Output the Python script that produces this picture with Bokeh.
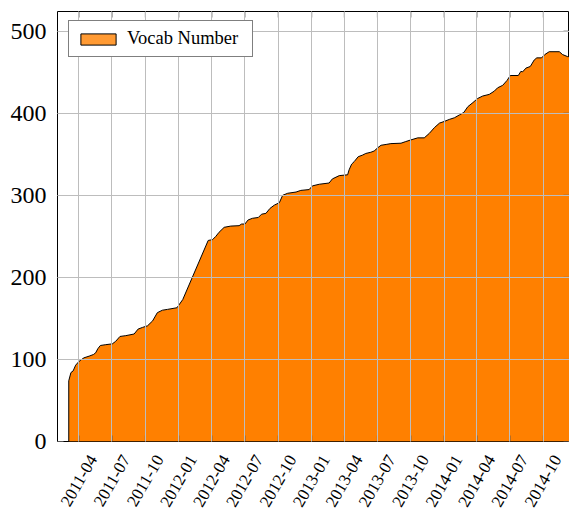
import math
import pandas as pd
from bokeh.plotting import figure
from bokeh.models import (Range1d, FixedTicker, ColumnDataSource, Legend, LegendItem)
from bokeh.embed import file_html
from bokeh.resources import INLINE

# ---- data ----
dates = ["2011-03-04","2011-03-10","2011-03-16","2011-03-23","2011-04-02","2011-04-15","2011-04-29",
         "2011-05-11","2011-05-17","2011-05-23","2011-05-30","2011-06-14","2011-07-02","2011-07-11",
         "2011-07-23","2011-08-08","2011-08-31","2011-09-11","2011-09-23","2011-10-07","2011-10-21",
         "2011-11-03","2011-11-17","2011-12-01","2011-12-27","2012-01-12",
         "2012-03-22","2012-04-03","2012-04-12","2012-04-21","2012-05-05","2012-05-23","2012-06-15",
         "2012-06-22","2012-07-01","2012-07-10","2012-07-22","2012-08-07","2012-08-16","2012-08-28",
         "2012-09-08","2012-09-20","2012-10-04","2012-10-13","2012-10-27","2012-11-19","2012-12-02",
         "2012-12-25",
         "2013-01-03","2013-01-22","2013-02-18","2013-02-27","2013-03-18","2013-04-10","2013-04-14",
         "2013-04-21","2013-04-28","2013-05-09","2013-05-21","2013-05-30","2013-06-13","2013-06-22",
         "2013-07-02","2013-07-11","2013-07-25","2013-08-07","2013-09-04","2013-09-17","2013-10-01",
         "2013-10-20","2013-11-07","2013-11-21","2013-12-05","2013-12-19",
         "2014-01-01","2014-01-15","2014-01-29","2014-02-12","2014-02-24","2014-03-07","2014-03-21",
         "2014-04-03","2014-04-17","2014-05-05","2014-05-19","2014-05-28","2014-06-11","2014-06-23",
         "2014-07-02","2014-07-24","2014-07-31","2014-08-05","2014-08-14","2014-08-26","2014-09-06",
         "2014-09-13","2014-09-26","2014-10-05","2014-10-17","2014-11-14","2014-11-23","2014-12-07",
         "2014-12-12"]
vocab = [74, 84, 86, 93, 98, 102, 104, 106, 108, 113, 117, 118, 119, 122, 128, 129, 131, 137, 139,
         141, 147, 157, 160, 161, 163, 173,
         245, 246, 250, 255, 261, 262.5, 263, 265, 265, 270, 272, 273, 277, 278, 284, 288, 291, 300,
         302.5, 304, 306, 307,
         311.5, 313.5, 315, 320, 324, 325, 331, 338, 341, 347, 349, 351, 352.5, 354, 358, 361, 362,
         363, 363.5, 365.5, 367.5, 370, 370, 375.5, 382.5, 388,
         390, 392.5, 394.5, 398, 401, 408, 413, 418, 421, 423, 427, 431, 434, 440, 446, 446, 451,
         450.5, 455, 457, 465, 467.5, 467.5, 471.5, 475, 475, 471.5, 469, 469]
tick_labels = ["2011-04", "2011-07", "2011-10", "2012-01", "2012-04", "2012-07", "2012-10",
               "2013-01", "2013-04", "2013-07", "2013-10", "2014-01", "2014-04", "2014-07", "2014-10"]
y_ticks = [0, 100, 200, 300, 400, 500]
series_name = "Vocab Number"
x_start, x_end = "2011-02-01", "2014-12-12"
y_max = 524

FONT = "Liberation Serif"
W, H = 569, 515
BL, BT, BR, BB = 57, 11, 0, 74
frame_h = H - BT - BB
frame_w = W - BL - BR

x = pd.to_datetime(dates)
tick_dates = pd.to_datetime([t + "-01" for t in tick_labels])
tick_ms = [int(t.value // 10**6) for t in tick_dates]
xs0, xs1 = pd.Timestamp(x_start), pd.Timestamp(x_end)
ms_per_px = (xs1 - xs0) / pd.Timedelta(milliseconds=1) / frame_w
units_per_px = y_max / frame_h

p = figure(width=W, height=H, x_axis_type="datetime", output_backend="svg",
           toolbar_location=None, x_range=Range1d(xs0, xs1), y_range=Range1d(0, y_max),
           min_border_left=BL, min_border_top=BT, min_border_right=BR, min_border_bottom=BB)
p.background_fill_color = "white"
p.border_fill_color = "white"
p.outline_line_color = "black"
p.outline_line_width = 1

src = ColumnDataSource(dict(x=x, y=vocab))
p.varea(x="x", y1=0, y2="y", source=src, fill_color="#ff8000")
ox = [x[0]] + list(x) + [x[-1]]
oy = [0] + list(vocab) + [0]
p.line(ox, oy, line_color="black", line_width=1)

# inward tick marks on bottom, top and right (pgfplots style)
tick_len = 6
TICK_COLOR = "#555555"
p.segment(x0=tick_dates, y0=0, x1=tick_dates, y1=tick_len * units_per_px,
          line_color=TICK_COLOR, line_width=1)
p.segment(x0=tick_dates, y0=y_max - tick_len * units_per_px, x1=tick_dates, y1=y_max,
          line_color=TICK_COLOR, line_width=1)
xr_tick0 = xs1 - pd.Timedelta(milliseconds=tick_len * ms_per_px)
p.segment(x0=[xr_tick0] * len(y_ticks), y0=y_ticks, x1=[xs1] * len(y_ticks), y1=y_ticks,
          line_color=TICK_COLOR, line_width=1)

# legend swatch (glyph with no drawable data)
nan = float("nan")
dummy = p.quad(left=[nan], right=[nan], top=[nan], bottom=[nan], fill_color="#ff9a33",
               line_color="black", line_width=1)
legend = Legend(items=[LegendItem(label=series_name, renderers=[dummy])],
                location=(11, 384), glyph_width=44, glyph_height=14, padding=7, margin=0,
                label_standoff=7, label_width=118, label_text_font=FONT,
                label_text_font_size="18.5px", label_text_color="black",
                border_line_color="black", border_line_width=1,
                background_fill_alpha=1.0, label_height=14)
p.add_layout(legend)

# x axis: labels centred under ticks (range shifted so rotated, right-anchored labels centre on ticks)
shift_px = 14
shift = pd.Timedelta(milliseconds=shift_px * ms_per_px)
p.extra_x_ranges = {"lbl": Range1d(xs0 - shift, xs1 - shift)}
xa = p.xaxis[0]
xa.x_range_name = "lbl"
xa.ticker = FixedTicker(ticks=tick_ms)
xa.major_label_overrides = {t: lab for t, lab in zip(tick_ms, tick_labels)}
xa.major_label_orientation = math.pi / 3
xa.major_label_text_font = FONT
xa.major_label_text_font_size = "17px"
xa.major_label_text_color = "black"
xa.major_label_standoff = 15
xa.major_tick_in = 0
xa.major_tick_out = 0
xa.minor_tick_in = 0
xa.minor_tick_out = 0
xa.axis_line_color = None

ya = p.yaxis[0]
ya.ticker = FixedTicker(ticks=y_ticks)
ya.axis_line_color = None
ya.major_tick_in = tick_len
ya.major_tick_out = 0
ya.minor_tick_in = 0
ya.minor_tick_out = 0
ya.major_tick_line_color = TICK_COLOR
ya.major_label_text_font = FONT
ya.major_label_text_font_size = "24px"
ya.major_label_text_color = "black"
ya.major_label_standoff = 11

for g in (p.xgrid, p.ygrid):
    g.level = "guide"
    g.grid_line_color = "#bdbdbd"
    g.grid_line_width = 1
p.xgrid.x_range_name = "default"
p.xgrid.ticker = FixedTicker(ticks=tick_ms)
p.ygrid.ticker = FixedTicker(ticks=y_ticks)

open("out.html", "w").write(file_html(p, INLINE))
